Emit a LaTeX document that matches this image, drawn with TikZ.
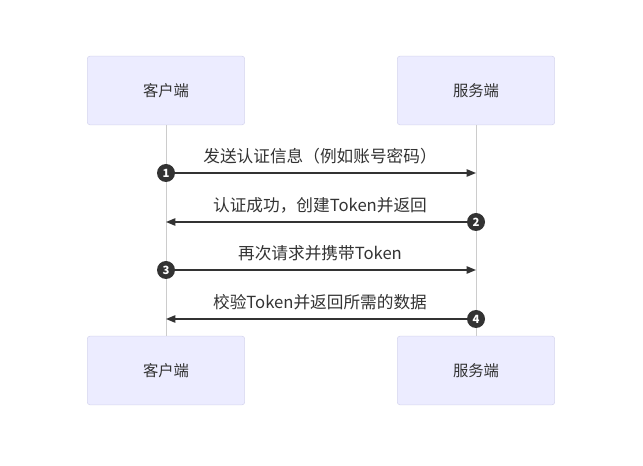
\documentclass[tikz,border=0pt]{standalone}
\usepackage{fontspec}
\setmainfont{Noto Sans CJK SC}
\usetikzlibrary{arrows.meta}
\definecolor{actorfill}{HTML}{ECECFF}
\definecolor{actorline}{HTML}{D6D6EE}
\definecolor{inkgray}{HTML}{333333}
\definecolor{lifegray}{HTML}{CCCCCC}
\begin{document}
\begin{tikzpicture}[x=0.75pt, y=-0.75pt,
  actor/.style={draw=actorline, fill=actorfill, rounded corners=2pt,
    minimum width=118pt, minimum height=51.5pt, text=inkgray,
    font=\fontsize{11.5}{13}\selectfont},
  life/.style={draw=lifegray, line width=0.75pt},
  badge/.style={circle, fill=inkgray, text=white, inner sep=0pt,
    minimum size=13.5pt, font=\fontsize{8.5}{9}\selectfont\bfseries},
  msg/.style={draw=inkgray, line width=1.1pt,
    -{Triangle[length=7pt,width=5.5pt]}},
  msglabel/.style={text=inkgray, font=\fontsize{12.5}{14}\selectfont}]
  % Canvas
  \useasboundingbox[fill=white] (0,0) rectangle (643,466);
  % Actors
  \node[actor] (cliTop) at (166,90.5) {客户端};
  \node[actor] (srvTop) at (476,90.5) {服务端};
  \node[actor] (cliBot) at (166,370.5) {客户端};
  \node[actor] (srvBot) at (476,370.5) {服务端};
  % Lifelines
  \draw[life] (cliTop) -- (cliBot);
  \draw[life] (srvTop) -- (srvBot);
  % Messages with numbered badges
  \foreach \i/\y/\from/\to/\lab in {
      1/173/166/476/{发送认证信息（例如账号密码）},
      2/222/476/166/{认证成功，创建Token并返回},
      3/270/166/476/{再次请求并携带Token},
      4/319/476/166/{校验Token并返回所需的数据}} {
    \coordinate (tip\i) at (\to,\y);
    \node[badge] (num\i) at (\from,\y) {\i};
    \draw[msg] (num\i) -- (tip\i);
    \node[msglabel] (lab\i) at (320,\y-17) {\lab};
  }
\end{tikzpicture}
\end{document}
